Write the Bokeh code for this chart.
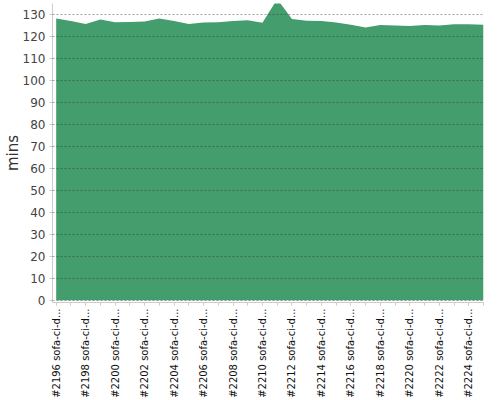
import math
from bokeh.plotting import figure
from bokeh.models import FixedTicker, Range1d, ColumnDataSource
from bokeh.embed import file_html
from bokeh.resources import INLINE

builds = [2196, 2197, 2198, 2199, 2200, 2201, 2202, 2203, 2204, 2205,
          2206, 2207, 2208, 2209, 2210, 2211, 2212, 2213, 2214, 2215,
          2216, 2217, 2218, 2219, 2220, 2221, 2222, 2223, 2224, 2225]
minutes = [128.2, 127.0, 125.7, 127.7, 126.5, 126.6, 126.8, 128.2, 127.0, 125.7,
           126.4, 126.5, 127.0, 127.4, 126.2, 137.0, 127.9, 127.1, 127.0, 126.4,
           125.3, 124.1, 125.2, 125.0, 124.8, 125.2, 125.0, 125.6, 125.6, 125.3]
labelled_builds = [2196, 2198, 2200, 2202, 2204, 2206, 2208, 2210, 2212, 2214,
                   2216, 2218, 2220, 2222, 2224]
tick_labels = ["#%d sofa-ci-d..." % b for b in labelled_builds]
y_ticks = [0, 10, 20, 30, 40, 50, 60, 70, 80, 90, 100, 110, 120, 130]
zeros = [0] * len(builds)

src = ColumnDataSource(dict(x=builds, y=minutes, y0=zeros))

p = figure(width=484, height=400, output_backend="svg", toolbar_location=None,
           x_range=Range1d(2195.75, 2225), y_range=Range1d(-1.0, 135.0),
           min_border_left=0, min_border_right=1, min_border_top=3, min_border_bottom=0)

p.varea(x="x", y1="y0", y2="y", source=src, fill_color="#449d6d", fill_alpha=1.0)

p.outline_line_color = None
p.background_fill_color = "white"
p.border_fill_color = "white"

# x axis
xa = p.xaxis[0]
xa.ticker = FixedTicker(ticks=labelled_builds, minor_ticks=builds)
xa.major_label_overrides = {b: t for b, t in zip(labelled_builds, tick_labels)}
xa.major_label_orientation = math.pi / 2
xa.major_label_text_font = "DejaVu Sans"
xa.major_label_text_font_size = "10px"
xa.major_label_text_color = "#111111"
xa.major_label_standoff = 3
xa.axis_line_color = "#cccccc"
xa.major_tick_line_color = "#cccccc"
xa.minor_tick_line_color = "#cccccc"
xa.major_tick_in = 0
xa.major_tick_out = 3
xa.minor_tick_in = 0
xa.minor_tick_out = 3

# y axis
ya = p.yaxis[0]
ya.ticker = FixedTicker(ticks=y_ticks)
ya.axis_label = "mins"
ya.axis_label_text_font = "DejaVu Sans"
ya.axis_label_text_font_size = "15px"
ya.axis_label_text_font_style = "normal"
ya.axis_label_text_color = "#333333"
ya.axis_label_standoff = -2
ya.major_label_text_font = "DejaVu Sans"
ya.major_label_text_font_size = "12px"
ya.major_label_text_color = "#444444"
ya.major_label_standoff = 4
ya.axis_line_color = "#cccccc"
ya.major_tick_line_color = "#cccccc"
ya.major_tick_in = 0
ya.major_tick_out = 3
ya.minor_tick_line_color = None

p.xgrid.visible = False
p.ygrid.ticker = FixedTicker(ticks=y_ticks)
p.ygrid.level = "overlay"
p.ygrid.grid_line_color = "#333333"
p.ygrid.grid_line_alpha = 0.45
p.ygrid.grid_line_dash = "2 2"
p.ygrid.grid_line_width = 1

open("out.html", "w").write(file_html(p, INLINE))
